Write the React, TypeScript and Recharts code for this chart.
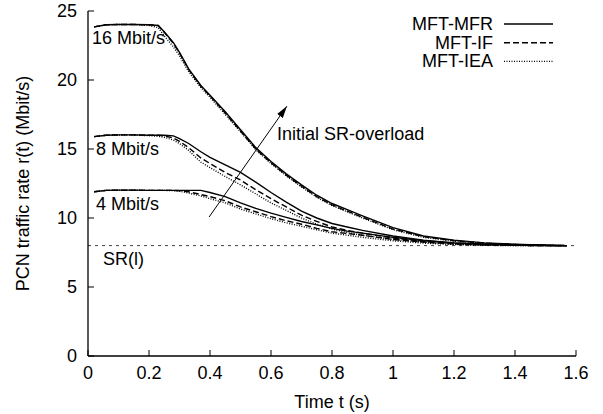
import React from "react";
import {
  LineChart,
  Line,
  XAxis,
  YAxis,
  ReferenceLine,
  ReferenceDot,
} from "recharts";

// time axis (s)
const times = [
  0.02, 0.06, 0.1, 0.15, 0.2, 0.23, 0.25, 0.28, 0.3, 0.33, 0.37, 0.4, 0.45,
  0.5, 0.55, 0.6, 0.65, 0.7, 0.75, 0.8, 0.85, 0.9, 1.0, 1.1, 1.2, 1.3, 1.4,
  1.5, 1.57,
];

// 16 Mbit/s initial overload
const mfr16 = [
  23.85, 24.0, 24.02, 24.02, 24.0, 23.95, 23.5, 22.7, 22.0, 20.8, 19.6, 18.9,
  17.7, 16.4, 15.1, 14.1, 13.2, 12.4, 11.65, 11.05, 10.6, 10.15, 9.3, 8.7, 8.4,
  8.2, 8.1, 8.03, 8.0,
];
const if16 = [
  23.85, 24.0, 24.02, 24.02, 24.0, 23.95, 23.45, 22.65, 21.95, 20.75, 19.55,
  18.85, 17.6, 16.3, 15.0, 14.0, 13.1, 12.3, 11.55, 10.95, 10.5, 10.05, 9.2,
  8.65, 8.35, 8.18, 8.08, 8.02, 8.0,
];
const iea16 = [
  23.85, 24.0, 24.02, 24.02, 23.95, 23.8, 23.2, 22.4, 21.75, 20.6, 19.45,
  18.75, 17.5, 16.25, 14.95, 13.95, 13.05, 12.25, 11.5, 10.9, 10.45, 10.0,
  9.15, 8.6, 8.32, 8.15, 8.06, 8.02, 8.0,
];

// 8 Mbit/s
const mfr8 = [
  15.9, 16.0, 16.02, 16.02, 16.0, 16.0, 16.0, 15.95, 15.75, 15.4, 14.8, 14.4,
  13.85, 13.3, 12.6, 11.85, 11.15, 10.5, 10.0, 9.6, 9.35, 9.1, 8.7, 8.4, 8.2,
  8.1, 8.05, 8.02, 8.0,
];
const if8 = [
  15.9, 16.0, 16.02, 16.02, 16.0, 16.0, 15.95, 15.8, 15.55, 15.1, 14.35, 13.95,
  13.3, 12.75, 12.05, 11.4, 10.8, 10.2, 9.75, 9.35, 9.1, 8.9, 8.55, 8.3, 8.15,
  8.06, 8.02, 8.0, 8.0,
];
const iea8 = [
  15.9, 16.0, 16.02, 16.0, 15.97, 15.92, 15.85, 15.65, 15.4, 14.9, 14.05,
  13.65, 13.0, 12.4, 11.75, 11.1, 10.55, 10.0, 9.55, 9.2, 8.95, 8.75, 8.45,
  8.25, 8.1, 8.04, 8.01, 8.0, 8.0,
];

// 4 Mbit/s
const mfr4 = [
  11.9, 12.0, 12.02, 12.02, 12.0, 12.0, 12.0, 12.0, 12.0, 12.0, 12.0, 11.85,
  11.55, 11.1, 10.7, 10.35, 10.05, 9.75, 9.5, 9.25, 9.05, 8.9, 8.6, 8.35, 8.2,
  8.1, 8.04, 8.01, 8.0,
];
const if4 = [
  11.9, 12.0, 12.02, 12.02, 12.0, 12.0, 12.0, 12.0, 11.98, 11.9, 11.7, 11.55,
  11.25, 10.8, 10.45, 10.1, 9.8, 9.55, 9.25, 9.0, 8.88, 8.75, 8.45, 8.25,
  8.12, 8.05, 8.02, 8.0, 8.0,
];
const iea4 = [
  11.9, 12.0, 12.02, 12.02, 12.0, 12.0, 12.0, 11.98, 11.95, 11.8, 11.6, 11.4,
  11.1, 10.65, 10.3, 9.95, 9.65, 9.4, 9.15, 8.9, 8.75, 8.6, 8.35, 8.18, 8.08,
  8.02, 8.0, 8.0, 8.0,
];

const xTicks = [0, 0.2, 0.4, 0.6, 0.8, 1, 1.2, 1.4, 1.6];
const yTicks = [0, 5, 10, 15, 20, 25];
const srLevel = 8;

const legendItems = [
  { name: "MFT-MFR", dash: undefined },
  { name: "MFT-IF", dash: "6 3" },
  { name: "MFT-IEA", dash: "1 1.5" },
];

const notes = [
  { x: 0.013, y: 23.05, text: "16 Mbit/s" },
  { x: 0.026, y: 15.0, text: "8 Mbit/s" },
  { x: 0.026, y: 11.0, text: "4 Mbit/s" },
  { x: 0.049, y: 7.0, text: "SR(l)" },
  { x: 0.62, y: 16.1, text: "Initial SR-overload" },
];

const arrowFrom = { x: 0.397, y: 10.07 };
const arrowTo = { x: 0.652, y: 18.1 };

const data = times.map((t, i) => ({
  t,
  mfr16: mfr16[i],
  if16: if16[i],
  iea16: iea16[i],
  mfr8: mfr8[i],
  if8: if8[i],
  iea8: iea8[i],
  mfr4: mfr4[i],
  if4: if4[i],
  iea4: iea4[i],
}));

const series = [
  { key: "mfr16", dash: undefined },
  { key: "if16", dash: "6 3" },
  { key: "iea16", dash: "1 1.5" },
  { key: "mfr8", dash: undefined },
  { key: "if8", dash: "6 3" },
  { key: "iea8", dash: "1 1.5" },
  { key: "mfr4", dash: undefined },
  { key: "if4", dash: "6 3" },
  { key: "iea4", dash: "1 1.5" },
];

const FONT = "'Liberation Sans', Arial, sans-serif";
const FS = 18;
const TICK = 6;

const BottomTick = (props: any) => {
  const { x, y, payload } = props;
  return (
    <g>
      <line x1={x} x2={x} y1={y} y2={y - TICK} stroke="#000" />
      <text x={x} y={y + 23} textAnchor="middle" fontSize={FS} fontFamily={FONT} fill="#000">
        {String(payload.value)}
      </text>
    </g>
  );
};

const TopTick = (props: any) => {
  const { x, y } = props;
  return <line x1={x} x2={x} y1={y} y2={y + TICK} stroke="#000" />;
};

const LeftTick = (props: any) => {
  const { x, y, payload } = props;
  return (
    <g>
      <line x1={x} x2={x + TICK} y1={y} y2={y} stroke="#000" />
      <text x={x - 11} y={y + 6} textAnchor="end" fontSize={FS} fontFamily={FONT} fill="#000">
        {String(payload.value)}
      </text>
    </g>
  );
};

const RightTick = (props: any) => {
  const { x, y } = props;
  return <line x1={x} x2={x - TICK} y1={y} y2={y} stroke="#000" />;
};

const noteShape = (text: string) => (p: any) => (
  <text x={p.cx} y={p.cy + 6} fontSize={FS} fontFamily={FONT} fill="#000">
    {text}
  </text>
);

export default function App() {
  return (
    <div style={{ position: "absolute", left: 0, top: 0, width: 603, height: 414, background: "#fff" }}>
      <svg width={0} height={0} style={{ position: "absolute" }}>
        <defs>
          <marker
            id="arrowHead"
            viewBox="0 0 12 7"
            refX={12}
            refY={3.5}
            markerWidth={12}
            markerHeight={7}
            markerUnits="userSpaceOnUse"
            orient="auto"
          >
            <path d="M0,0 L12,3.5 L0,7 z" fill="#000" />
          </marker>
        </defs>
      </svg>
      <LineChart
        width={603}
        height={414}
        data={data}
        margin={{ top: 11, right: 27, bottom: 0, left: 0 }}
      >
        <XAxis
          dataKey="t"
          type="number"
          domain={[0, 1.6]}
          ticks={xTicks}
          height={58}
          tickSize={0}
          tickMargin={0}
          tick={<BottomTick />}
          axisLine={{ stroke: "#000", strokeWidth: 1.3 }}
          tickLine={false}
          interval={0}
          label={{
            value: "Time t (s)",
            position: "insideBottom",
            offset: 6,
            fill: "#000",
            fontSize: FS,
            fontFamily: FONT,
          }}
        />
        <XAxis
          xAxisId="top"
          orientation="top"
          type="number"
          domain={[0, 1.6]}
          ticks={xTicks}
          height={0}
          tickSize={0}
          tickMargin={0}
          tick={<TopTick />}
          axisLine={{ stroke: "#000", strokeWidth: 1.3 }}
          tickLine={false}
          interval={0}
        />
        <YAxis
          type="number"
          domain={[0, 25]}
          ticks={yTicks}
          width={88}
          tickSize={0}
          tickMargin={0}
          tick={<LeftTick />}
          axisLine={{ stroke: "#000", strokeWidth: 1.3 }}
          tickLine={false}
          interval={0}
          label={{
            value: "PCN traffic rate r(t) (Mbit/s)",
            angle: -90,
            position: "insideLeft",
            offset: 23,
            fill: "#000",
            fontSize: FS,
            fontFamily: FONT,
            style: { textAnchor: "middle" },
          }}
        />
        <YAxis
          yAxisId="right"
          orientation="right"
          type="number"
          domain={[0, 25]}
          ticks={yTicks}
          width={0}
          tickSize={0}
          tickMargin={0}
          tick={<RightTick />}
          axisLine={{ stroke: "#000", strokeWidth: 1.3 }}
          tickLine={false}
          interval={0}
        />
        <ReferenceLine y={srLevel} stroke="#444" strokeDasharray="3 4" strokeWidth={1} />
        {series.map((s) => (
          <Line
            key={s.key}
            type="linear"
            dataKey={s.key}
            stroke="#000"
            strokeWidth={1.4}
            strokeDasharray={s.dash}
            dot={false}
            activeDot={false}
            isAnimationActive={false}
          />
        ))}
        <ReferenceLine
          segment={[arrowFrom, arrowTo]}
          shape={(p: any) => (
            <line
              x1={p.x1}
              y1={p.y1}
              x2={p.x2}
              y2={p.y2}
              stroke="#000"
              strokeWidth={1}
              markerEnd="url(#arrowHead)"
            />
          )}
        />
        {notes.map((n) => (
          <ReferenceDot key={n.text} x={n.x} y={n.y} r={0} shape={noteShape(n.text)} />
        ))}
      </LineChart>
      <svg
        width={603}
        height={414}
        style={{ position: "absolute", left: 0, top: 0, pointerEvents: "none" }}
      >
        {legendItems.map((item, i) => (
          <g key={item.name}>
            <text
              x={493}
              y={30 + i * 18.7}
              textAnchor="end"
              fontSize={FS}
              fontFamily={FONT}
              fill="#000"
            >
              {item.name}
            </text>
            <line
              x1={504}
              x2={553}
              y1={24 + i * 18.7}
              y2={24 + i * 18.7}
              stroke="#000"
              strokeWidth={1.4}
              strokeDasharray={item.dash}
            />
          </g>
        ))}
      </svg>
    </div>
  );
}
